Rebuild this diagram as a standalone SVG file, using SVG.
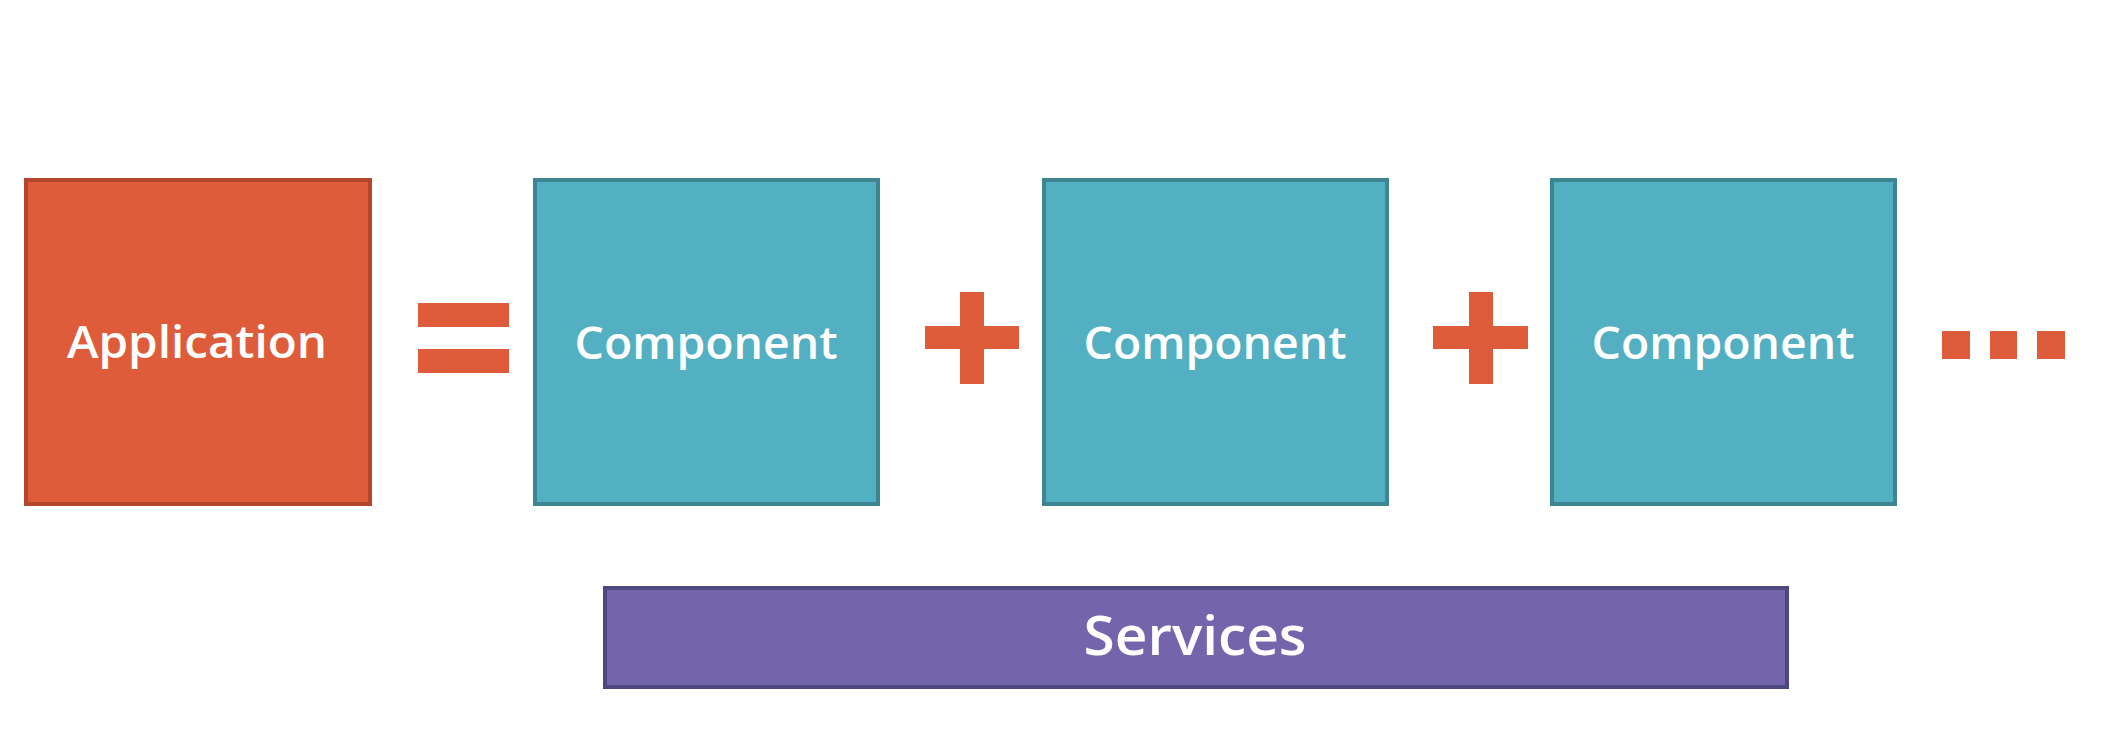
<svg xmlns="http://www.w3.org/2000/svg" width="2114" height="744" viewBox="0 0 2114 744">
<style>
.app{fill:#DE5C3A;stroke:#B4462D;stroke-width:4}
.comp{fill:#53AFC2;stroke:#3D8590;stroke-width:4}
.svc{fill:#7364AC;stroke:#4E4880;stroke-width:4}
.op{fill:#DE5C3A}
.lbl{fill:#FFFFFF;font-family:"Open Sans","Liberation Sans",sans-serif;font-weight:600;text-anchor:middle}
</style>
<rect width="2114" height="744" fill="#FFFFFF"/>
<g id="application">
<rect class="app" x="26" y="180" width="344" height="324"/>
<text class="lbl" x="197" y="358" font-size="46" textLength="260" lengthAdjust="spacingAndGlyphs">Application</text>
</g>
<g id="equals">
<rect class="op" x="418" y="303" width="91" height="24"/>
<rect class="op" x="418" y="349" width="91" height="24"/>
</g>
<g id="component1">
<rect class="comp" x="535" y="180" width="343" height="324"/>
<text class="lbl" x="706" y="359" font-size="46" textLength="263" lengthAdjust="spacingAndGlyphs">Component</text>
</g>
<g id="plus1">
<rect class="op" x="925" y="326" width="94" height="23"/>
<rect class="op" x="960" y="292" width="24" height="92"/>
</g>
<g id="component2">
<rect class="comp" x="1044" y="180" width="343" height="324"/>
<text class="lbl" x="1215" y="359" font-size="46" textLength="263" lengthAdjust="spacingAndGlyphs">Component</text>
</g>
<g id="plus2">
<rect class="op" x="1433" y="326" width="95" height="23"/>
<rect class="op" x="1469" y="292" width="24" height="92"/>
</g>
<g id="component3">
<rect class="comp" x="1552" y="180" width="343" height="324"/>
<text class="lbl" x="1723" y="359" font-size="46" textLength="263" lengthAdjust="spacingAndGlyphs">Component</text>
</g>
<g id="ellipsis">
<rect class="op" x="1942" y="331" width="28" height="28"/>
<rect class="op" x="1990" y="331" width="27" height="28"/>
<rect class="op" x="2037" y="331" width="28" height="28"/>
</g>
<g id="services">
<rect class="svc" x="605" y="588" width="1182" height="99"/>
<text class="lbl" x="1195" y="655" font-size="54" textLength="223" lengthAdjust="spacingAndGlyphs">Services</text>
</g>
<g id="connectors"/>
</svg>
